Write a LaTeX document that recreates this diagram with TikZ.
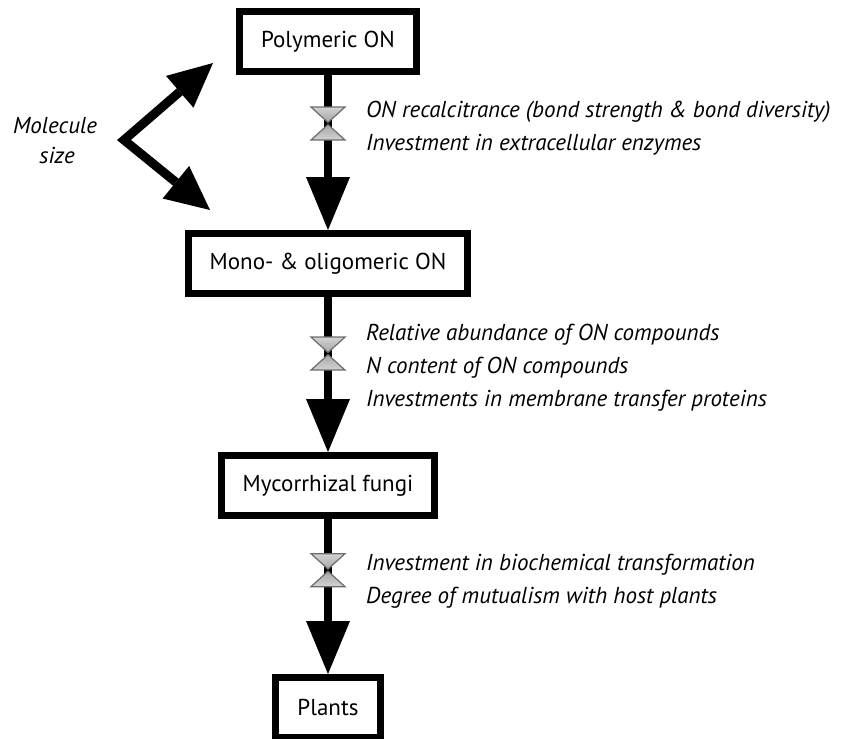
\documentclass[tikz,border=0pt]{standalone}
\usepackage{fontspec}
\setmainfont{PT Sans}
\usetikzlibrary{arrows.meta,positioning}

\tikzset{
    box/.style={draw, line width=7pt, minimum height=60pt, inner xsep=21.5pt,
        font=\fontsize{23}{27}\selectfont},
    flow/.style={line width=8pt, -{Triangle[width=44pt,length=53pt,line width=0pt]}},
    molarrow/.style={line width=9pt, line join=miter,
        {Triangle[width=42pt,length=44pt,line width=0pt]}-{Triangle[width=42pt,length=44pt,line width=0pt]}},
    note/.style={anchor=base west, inner sep=0pt, font=\fontsize{23}{27}\selectfont\itshape},
    valve/.pic={
        \shade[top color=gray!35, bottom color=gray!70, draw=gray!85!black, line width=1.2pt]
            (-17,-16.5) -- (17,-16.5) -- (0,-1) -- cycle;
        \shade[top color=gray!70, bottom color=gray!35, draw=gray!85!black, line width=1.2pt]
            (-17,16.5) -- (17,16.5) -- (0,1) -- cycle;
    }
}

\begin{document}
\begin{tikzpicture}[x=1pt, y=-1pt, node distance=155pt]
    \useasboundingbox (0,0) rectangle (841,739);

    % the four pools, top to bottom
    \node[box] (poly) at (328,41.5) {Polymeric ON};
    \node[box, below=of poly] (mono) {Mono- \& oligomeric ON};
    \node[box, below=of mono] (myco) {Mycorrhizal fungi};
    \node[box, below=of myco] (plants) {Plants};

    \draw[flow] (poly) -- (mono);
    \draw[flow] (mono) -- (myco);
    \draw[flow] (myco) -- (plants);

    % bottlenecks on each step
    \path (poly) -- pic[pos=0.313]{valve} (mono);
    \path (mono) -- pic[pos=0.365]{valve} (myco);
    \path (myco) -- pic[pos=0.33]{valve} (plants);

    \node[note] (recalc) at (366,117) {ON recalcitrance (bond strength \& bond diversity)};
    \node[note] (enzymes) at (366,150) {Investment in extracellular enzymes};

    \node[note] (abund) at (366,340) {Relative abundance of ON compounds};
    \node[note] (ncont) at (366,373) {N content of ON compounds};
    \node[note] (transfer) at (366,406) {Investments in membrane transfer proteins};

    \node[note] (biochem) at (366,570) {Investment in biochemical transformation};
    \node[note] (mutual) at (366,603) {Degree of mutualism with host plants};

    % molecule size
    \coordinate (molup) at (213,63);
    \coordinate (molvtx) at (124,140);
    \coordinate (moldown) at (210,210);
    \draw[molarrow] (molup) -- (molvtx) -- (moldown);
    \node[note, anchor=base] (molword) at (55,133) {Molecule};
    \node[note, anchor=base] (sizeword) at (57,163) {size};
\end{tikzpicture}
\end{document}
